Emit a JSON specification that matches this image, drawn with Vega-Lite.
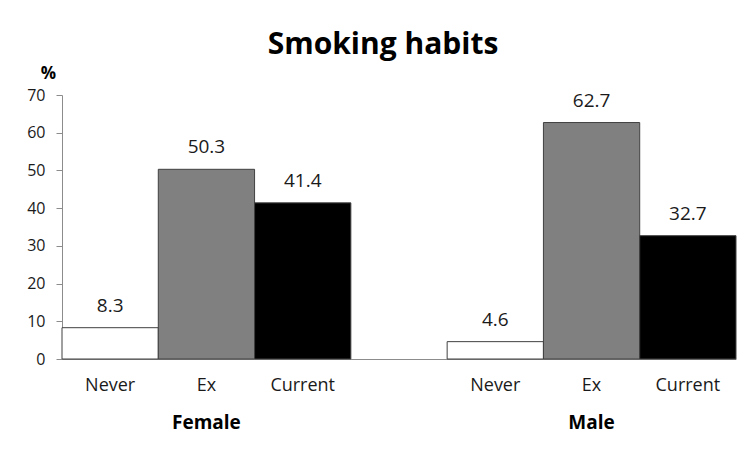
{
  "$schema": "https://vega.github.io/schema/vega-lite/v6.json",
  "width": 674,
  "height": 264,
  "autosize": "none",
  "padding": {"left": 62, "top": 95, "right": 10, "bottom": 100},
  "background": "white",
  "title": {"text": "Smoking habits", "font": "Open Sans", "fontSize": 30, "fontWeight": "bold", "color": "#000000", "anchor": "middle", "frame": "group", "dx": -16, "offset": 4},
  "data": {"values": [
    {"group": "Female", "habit": "Never", "key": "F-Never", "value": 8.3},
    {"group": "Female", "habit": "Ex", "key": "F-Ex", "value": 50.3},
    {"group": "Female", "habit": "Current", "key": "F-Current", "value": 41.4},
    {"group": "Male", "habit": "Never", "key": "M-Never", "value": 4.6},
    {"group": "Male", "habit": "Ex", "key": "M-Ex", "value": 62.7},
    {"group": "Male", "habit": "Current", "key": "M-Current", "value": 32.7}
  ]},
  "config": {"view": {"stroke": null}, "font": "Open Sans"},
  "encoding": {
    "y": {"field": "value", "type": "quantitative",
      "scale": {"domain": [0, 70], "nice": false},
      "axis": {"values": [0, 10, 20, 30, 40, 50, 60, 70], "tickCount": 8, "labelOverlap": false, "grid": false, "domainColor": "#8c8c8c", "tickColor": "#8c8c8c", "tickSize": 6, "labelFontSize": 16, "labelColor": "#1a1a1a", "labelPadding": 11, "labelFont": "Open Sans", "title": "%", "titleAngle": 0, "titleFontSize": 17, "titleFontWeight": "bold", "titleAlign": "center", "titleBaseline": "bottom", "titleX": -14, "titleY": -13, "titleColor": "#000000", "titleFont": "Open Sans"}}
  },
  "layer": [
    {
      "mark": {"type": "bar", "stroke": "#404040", "strokeWidth": 1},
      "encoding": {
        "x": {"field": "key", "type": "nominal", "sort": null,
          "scale": {"domain": ["F-Never", "F-Ex", "F-Current", "gap", "M-Never", "M-Ex", "M-Current"], "paddingInner": 0, "paddingOuter": 0},
          "axis": {"orient": "bottom", "title": null, "labelExpr": "datum.value == 'gap' ? '' : split(datum.value, '-')[1]", "labelAngle": 0, "ticks": false, "labelPadding": 17, "labelFontSize": 18, "labelColor": "#1a1a1a", "domainColor": "#8c8c8c", "labelFont": "Open Sans"}},
        "fill": {"field": "habit", "type": "nominal", "scale": {"domain": ["Never", "Ex", "Current"], "range": ["#ffffff", "#808080", "#000000"]}, "legend": null}
      }
    },
    {
      "mark": {"type": "text", "baseline": "alphabetic", "dy": -16, "fontSize": 19, "color": "#1a1a1a", "font": "Open Sans"},
      "encoding": {
        "x": {"field": "key", "type": "nominal", "sort": null,
          "axis": {"orient": "bottom", "title": null, "labelExpr": "datum.value == 'F-Ex' ? 'Female' : datum.value == 'M-Ex' ? 'Male' : ''", "labelAngle": 0, "ticks": false, "domain": false, "labelPadding": 54, "labelFontSize": 19, "labelFontWeight": "bold", "labelColor": "#000000", "labelFont": "Open Sans"}},
        "text": {"field": "value", "type": "quantitative", "format": ".1f"}
      }
    }
  ],
  "resolve": {"axis": {"x": "independent"}}
}
